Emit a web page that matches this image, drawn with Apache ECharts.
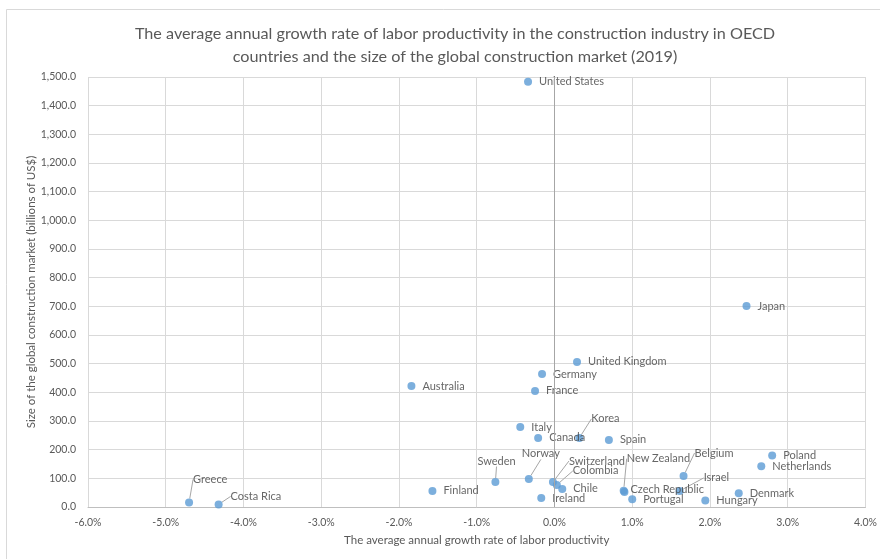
<!DOCTYPE html>
<html>
<head>
<meta charset="utf-8">
<script src="https://cdn.jsdelivr.net/npm/echarts@6/dist/echarts.min.js"></script>
<style>
html,body{margin:0;padding:0;background:#fff;}
#chart{width:880px;height:559px;}
</style>
</head>
<body>
<div id="chart"></div>
<script>
const countries = ["United States","Japan","United Kingdom","Germany","France","Australia","Italy","Canada","Korea","Spain","Sweden","Norway","Switzerland","Colombia","Chile","Ireland","New Zealand","Czech Republic","Portugal","Belgium","Israel","Hungary","Denmark","Poland","Netherlands","Finland","Greece","Costa Rica"];
const growthRate = [-0.34,2.47,0.29,-0.16,-0.25,-1.84,-0.44,-0.21,0.32,0.70,-0.76,-0.33,-0.02,0.03,0.10,-0.17,0.89,0.90,1.00,1.66,1.61,1.94,2.37,2.80,2.66,-1.57,-4.70,-4.32];
const marketSize = [1483,701,506,464,405,422,279,241,241,234,87,98,87,77,63,31,57,52,27,108,56,23,48,180,142,56,16,9];
const xTicks = {min:-6, max:4, step:1};
const yTicks = {min:0, max:1500, step:100};

const titleText = "The average annual growth rate of labor productivity in the construction industry in OECD\ncountries and the size of the global construction market (2019)";
const xName = "The average annual growth rate of labor productivity";
const yName = "Size of the global construction market (billions of US$)";

// label displacement for labels with leader lines (dx, dy in px)
const labelOffsets = {
  "Korea":[1,-19], "Sweden":[-29,-21], "Norway":[-18,-25], "Switzerland":[5,-21],
  "Colombia":[5,-14], "New Zealand":[-8,-32], "Czech Republic":[-5,-3],
  "Belgium":[0,-23], "Israel":[13,-13], "Greece":[-7,-23], "Costa Rica":[1,-8]
};
const leaderNames = ["Korea","Sweden","Norway","Switzerland","Colombia","New Zealand","Belgium","Israel","Greece","Costa Rica"];

function fmtThousands(v){
  const s = v.toFixed(1);
  const parts = s.split('.');
  parts[0] = parts[0].replace(/\B(?=(\d{3})+(?!\d))/g, ',');
  return parts.join('.');
}

const data = countries.map((c,i)=>{
  const item = {name:c, value:[growthRate[i], marketSize[i]]};
  if (leaderNames.indexOf(c) >= 0) item.labelLine = {show:true};
  return item;
});

const font = 'Lato, "Liberation Sans", sans-serif';
const chart = echarts.init(document.getElementById('chart'), null, {renderer:'canvas'});
chart.setOption({
  backgroundColor:'#ffffff',
  animation:false,
  textStyle:{fontFamily:font},
  title:{
    text:titleText, left:450, top:17, textAlign:'center',
    textStyle:{fontFamily:font, fontSize:16.2, fontWeight:'normal', color:'#595959', lineHeight:23}
  },
  graphic:[{type:'rect', shape:{x:6.5,y:9.5,width:880,height:560}, style:{fill:'none', stroke:'#d9d9d9', lineWidth:1}, silent:true}],
  grid:{left:88, right:14, top:77, bottom:52},
  xAxis:{
    type:'value', min:xTicks.min, max:xTicks.max, interval:xTicks.step,
    name:xName, nameLocation:'middle', nameGap:27, nameMoveOverlap:false,
    nameTextStyle:{fontFamily:font, fontSize:11.5, color:'#595959'},
    axisLine:{show:true, onZero:false, lineStyle:{color:'#bfbfbf'}},
    axisTick:{show:false},
    axisLabel:{fontFamily:font, fontSize:10.5, color:'#595959', margin:10, formatter:v=>v.toFixed(1)+'%'},
    splitLine:{show:true, lineStyle:{color:'#d9d9d9'}}
  },
  yAxis:{
    type:'value', min:yTicks.min, max:yTicks.max, interval:yTicks.step,
    name:yName, nameLocation:'middle', nameGap:51, nameRotate:90, nameMoveOverlap:false,
    nameTextStyle:{fontFamily:font, fontSize:11.5, color:'#595959'},
    axisLine:{show:false},
    axisTick:{show:false},
    axisLabel:{fontFamily:font, fontSize:10.5, color:'#595959', margin:12, formatter:v=>fmtThousands(v)},
    splitLine:{show:true, lineStyle:{color:'#d9d9d9'}}
  },
  series:[{
    type:'scatter',
    symbol:'circle', symbolSize:8,
    itemStyle:{color:'#5b9bd5'},
    data:data,
    label:{show:true, position:'right', distance:7, formatter:p=>p.name, fontFamily:font, fontSize:11, color:'#404040'},
    labelLine:{show:false, lineStyle:{color:'#a6a6a6', width:1}},
    labelLayout:function(params){
      const o = labelOffsets[countries[params.dataIndex]];
      return o ? {dx:o[0], dy:o[1]} : {};
    },
    markLine:{
      silent:true, symbol:'none', animation:false,
      label:{show:false},
      lineStyle:{color:'#a6a6a6', type:'solid', width:1},
      data:[{xAxis:0}]
    }
  }]
});
</script>
</body>
</html>
